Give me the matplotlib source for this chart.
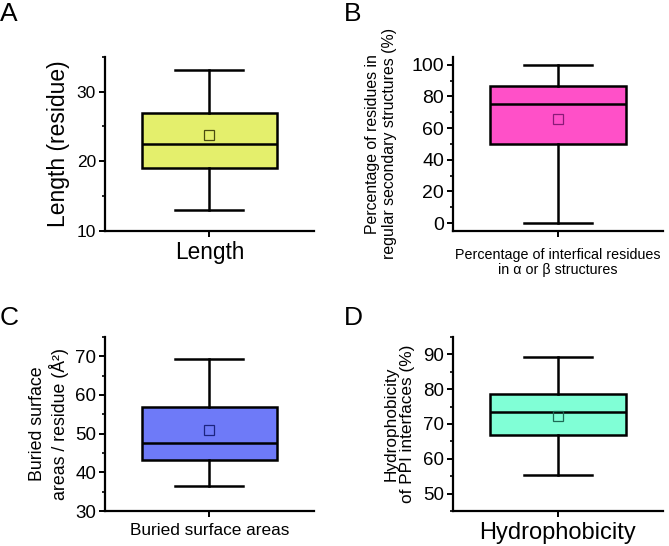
import matplotlib
matplotlib.use('Agg')
import matplotlib.pyplot as plt
from matplotlib.ticker import MultipleLocator, AutoMinorLocator

plt.rcParams['font.family'] = ['Liberation Sans', 'DejaVu Sans']

# box statistics: whisker low, Q1, median, Q3, whisker high, mean
etiquetas = ['A', 'B', 'C', 'D']
bigotes_bajos = [13.0, 0.0, 36.4, 55.3]
q1 = [19.05, 50.0, 43.2, 66.7]
medianas = [22.5, 75.3, 47.5, 73.3]
q3 = [27.0, 86.4, 56.8, 78.7]
bigotes_altos = [33.1, 100.0, 69.4, 89.2]
medias = [23.75, 65.7, 50.9, 72.4]

colores = ['#E4EF6C', '#FF50C8', '#6E7AF8', '#80FFD6']
bordes_media = ['#4A4A10', '#8A1A78', '#1C2480', '#1E6A55']

xlabels = ['Length', 'Percentage of interfical residues\nin \u03b1 or \u03b2 structures',
           'Buried surface areas', 'Hydrophobicity']
ylabels = ['Length (residue)', 'Percentage of residues in\nregular secondary structures (%)',
           'Buried surface\nareas / residue (\u00c5\u00b2)', 'Hydrophobicity\nof PPI interfaces (%)']
ylims = [(10, 35), (-5, 105), (30, 75), (45, 95)]
ypasos = [10, 20, 10, 10]

# layout (fraction of figure)
posiciones = [[0.157, 0.577, 0.312, 0.319], [0.677, 0.577, 0.314, 0.319],
              [0.157, 0.064, 0.312, 0.319], [0.677, 0.064, 0.314, 0.319]]
tam_xlabel = [16.3, 10.3, 12.4, 17]
tam_ylabel = [16.5, 11.4, 12.8, 12.4]
tam_ticks = [12.5, 14, 13.5, 13.5]
ylabel_x = [-0.17, -0.265, -0.175, -0.18]
xlabel_y = [-0.06, -0.10, -0.07, -0.065]
letras_pos = [(0.0, 0.997), (0.514, 0.997), (0.0, 0.44), (0.514, 0.44)]

fig = plt.figure(figsize=(6.69, 5.46), dpi=100)

for i in range(4):
    ax = fig.add_axes(posiciones[i])
    stats = [{
        'whislo': bigotes_bajos[i], 'q1': q1[i], 'med': medianas[i],
        'q3': q3[i], 'whishi': bigotes_altos[i], 'mean': medias[i], 'fliers': []
    }]
    ax.bxp(stats, positions=[1], widths=1.29, capwidths=0.65, patch_artist=True,
           showmeans=True, showfliers=False,
           boxprops=dict(facecolor=colores[i], edgecolor='black', linewidth=1.8),
           medianprops=dict(color='black', linewidth=1.8),
           whiskerprops=dict(color='black', linewidth=1.8),
           capprops=dict(color='black', linewidth=1.8),
           meanprops=dict(marker='s', markersize=6.5, markerfacecolor='none',
                          markeredgecolor=bordes_media[i], markeredgewidth=0.9))
    ax.set_xlim(0, 2)
    ax.set_ylim(*ylims[i])
    ax.set_xticks([1])
    ax.set_xticklabels([''])
    ax.yaxis.set_major_locator(MultipleLocator(ypasos[i]))
    ax.yaxis.set_minor_locator(AutoMinorLocator(2))
    for lado in ['top', 'right']:
        ax.spines[lado].set_visible(False)
    for lado in ['left', 'bottom']:
        ax.spines[lado].set_linewidth(1.6)
    ax.tick_params(axis='both', which='major', direction='out', length=4.5, width=1.4,
                   labelsize=tam_ticks[i], pad=2)
    ax.tick_params(axis='y', which='minor', direction='out', length=2.5, width=1.2)
    ax.set_ylabel(ylabels[i], fontsize=tam_ylabel[i], linespacing=1.15)
    ax.yaxis.set_label_coords(ylabel_x[i], 0.5)
    ax.set_xlabel(xlabels[i], fontsize=tam_xlabel[i], linespacing=1.1)
    ax.xaxis.set_label_coords(0.5, xlabel_y[i])
    fig.text(letras_pos[i][0], letras_pos[i][1], etiquetas[i], fontsize=19,
             ha='left', va='top')

fig.savefig('out.png', dpi=100)
